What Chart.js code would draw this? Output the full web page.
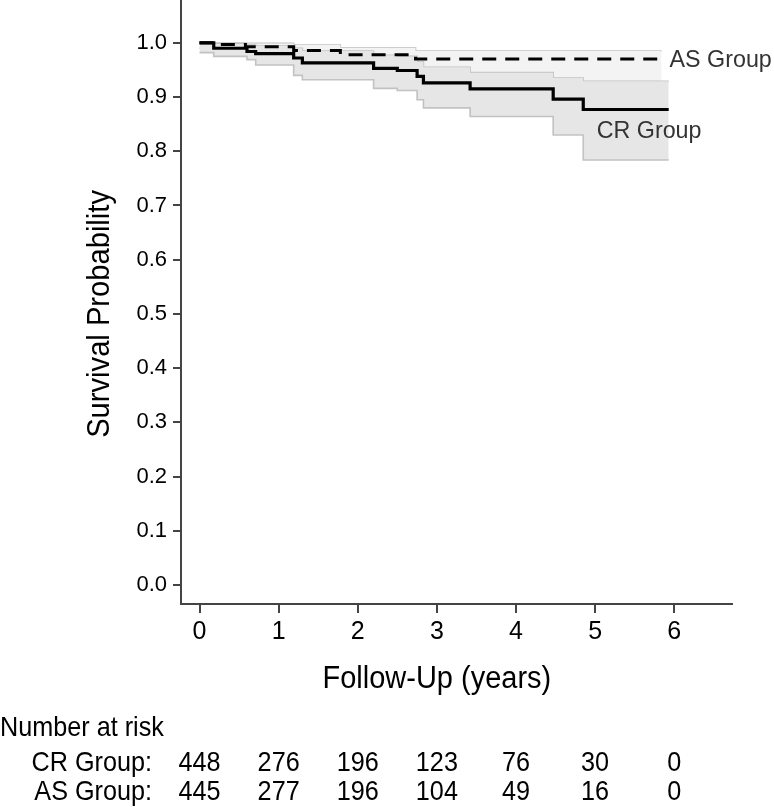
<!DOCTYPE html>
<html><head><meta charset="utf-8">
<script src="https://cdn.jsdelivr.net/npm/chart.js@4.4.1/dist/chart.umd.min.js"></script>
<style>html,body{margin:0;padding:0;background:#fff;}canvas{display:block;}</style>
</head><body>
<canvas id="c" width="774" height="807"></canvas>
<script>
// ---- data ----
const timeTicks = [0, 1, 2, 3, 4, 5, 6];
const survTicks = [0.0, 0.1, 0.2, 0.3, 0.4, 0.5, 0.6, 0.7, 0.8, 0.9, 1.0];

const crTimes = [0, 0.18, 0.60, 0.71, 1.19, 1.30, 2.20, 2.50, 2.75, 2.83, 3.42, 4.47, 4.85, 5.93];
const crSurv  = [1.000, 0.990, 0.984, 0.980, 0.972, 0.963, 0.953, 0.949, 0.938, 0.926, 0.915, 0.896, 0.877, 0.877];
const crLower = [0.982, 0.975, 0.969, 0.959, 0.940, 0.932, 0.916, 0.912, 0.895, 0.880, 0.864, 0.830, 0.784, 0.784];
const crUpper = [1.000, 0.998, 0.996, 0.994, 0.990, 0.985, 0.977, 0.975, 0.965, 0.955, 0.945, 0.935, 0.929, 0.929];

const asTimes = [0, 0.20, 0.58, 1.19, 1.78, 2.73, 5.84];
const asSurv  = [1.000, 0.997, 0.993, 0.986, 0.978, 0.970, 0.970];
const asLower = [0.990, 0.988, 0.983, 0.973, 0.960, 0.928, 0.928];
const asUpper = [1.000, 1.000, 0.999, 0.996, 0.991, 0.985, 0.985];

const groupNames = ['CR Group', 'AS Group'];
const riskTimes = [0, 1, 2, 3, 4, 5, 6];
const riskCR = [448, 276, 196, 123, 76, 30, 0];
const riskAS = [445, 277, 196, 104, 49, 16, 0];

const xTitle = 'Follow-Up (years)';
const yTitle = 'Survival Probability';
const riskTitle = 'Number at risk';

// ---- helpers ----
function pts(xs, ys) { return xs.map((x, i) => ({ x: x, y: ys[i] })); }
const FONT = '"Liberation Sans", Arial, Helvetica, sans-serif';

function drawText(ctx, s, px, py, size, align, sx, color, rot) {
  ctx.save();
  ctx.translate(px, py);
  if (rot) ctx.rotate(rot);
  ctx.scale(sx, 1);
  ctx.font = size + 'px ' + FONT;
  ctx.textAlign = align;
  ctx.textBaseline = 'alphabetic';
  ctx.fillStyle = color;
  ctx.fillText(s, 0, 0);
  ctx.restore();
}

const textPlugin = {
  id: 'kmTexts',
  afterDraw(chart) {
    const ctx = chart.ctx;
    const xs = chart.scales.x, ys = chart.scales.y;
    // axis titles
    drawText(ctx, xTitle, xs.getPixelForValue(3), 688, 31, 'center', 0.935, '#000');
    drawText(ctx, yTitle, 109, ys.getPixelForValue(0.5), 31, 'center', 0.94, '#000', -Math.PI / 2);
    // curve labels
    drawText(ctx, groupNames[1], xs.getPixelForValue(asTimes[asTimes.length - 1]) + 8,
             ys.getPixelForValue(asSurv[asSurv.length - 1]) + 8, 24, 'left', 0.97, '#333');
    drawText(ctx, groupNames[0], xs.getPixelForValue(5.02),
             ys.getPixelForValue(crSurv[crSurv.length - 1]) + 28, 24, 'left', 0.97, '#333');
    // number at risk table
    drawText(ctx, riskTitle, 0, 736, 28, 'left', 0.9, '#000');
    drawText(ctx, groupNames[0] + ':', 152, 771, 28, 'right', 0.9, '#000');
    drawText(ctx, groupNames[1] + ':', 152, 800, 28, 'right', 0.9, '#000');
    riskTimes.forEach((t, i) => {
      const px = xs.getPixelForValue(t);
      drawText(ctx, String(riskCR[i]), px, 771, 28, 'center', 0.9, '#000');
      drawText(ctx, String(riskAS[i]), px, 800, 28, 'center', 0.9, '#000');
    });
  }
};

const ciLine = '#c2c2c2';

new Chart(document.getElementById('c'), {
  type: 'line',
  data: {
    datasets: [
      { label: 'CR Group', data: pts(crTimes, crSurv), borderColor: '#000', borderWidth: 3.2,
        stepped: 'before', pointRadius: 0, fill: false, order: 1 },
      { label: 'AS Group', data: pts(asTimes, asSurv), borderColor: '#000', borderWidth: 3,
        borderDash: [14, 9], stepped: 'before', pointRadius: 0, fill: false, order: 2 },
      { label: 'CR lower', data: pts(crTimes, crLower), borderColor: ciLine, borderWidth: 1.6,
        stepped: 'before', pointRadius: 0, fill: '+1', backgroundColor: '#e6e6e6', order: 3 },
      { label: 'CR upper', data: pts(crTimes, crUpper), borderColor: ciLine, borderWidth: 1.6,
        stepped: 'before', pointRadius: 0, fill: false, order: 3 },
      { label: 'AS lower', data: pts(asTimes, asLower), borderColor: ciLine, borderWidth: 1.6,
        stepped: 'before', pointRadius: 0, fill: '+1', backgroundColor: '#f3f3f3', order: 4 },
      { label: 'AS upper', data: pts(asTimes, asUpper), borderColor: ciLine, borderWidth: 1.6,
        stepped: 'before', pointRadius: 0, fill: false, order: 4 }
    ]
  },
  options: {
    responsive: false,
    animation: false,
    devicePixelRatio: 1,
    layout: { padding: { left: 0, right: 42, top: 0, bottom: 0 } },
    plugins: { legend: { display: false }, tooltip: { enabled: false } },
    scales: {
      x: {
        type: 'linear', min: -0.234, max: 6.73,
        afterBuildTicks: s => { s.ticks = timeTicks.map(v => ({ value: v })); },
        afterFit: s => { s.height = 203; s.paddingLeft = 0; s.paddingRight = 0; },
        grid: { drawOnChartArea: false, drawTicks: true, tickLength: 9, color: '#444', lineWidth: 2 },
        border: { display: true, color: '#444', width: 2 },
        ticks: { color: '#000', font: { family: FONT, size: 25 }, padding: 4, autoSkip: false,
                 maxRotation: 0, callback: v => String(v) }
      },
      y: {
        type: 'linear', min: -0.035, max: 1.079,
        afterBuildTicks: s => { s.ticks = survTicks.map(v => ({ value: v })); },
        afterFit: s => { s.width = 181; s.paddingTop = 0; s.paddingBottom = 0; },
        grid: { drawOnChartArea: false, drawTicks: true, tickLength: 8, color: '#444', lineWidth: 2 },
        border: { display: true, color: '#444', width: 2 },
        ticks: { color: '#000', font: { family: FONT, size: 22 }, padding: 6, autoSkip: false,
                 callback: v => Number(v).toFixed(1) }
      }
    }
  },
  plugins: [textPlugin]
});
</script>
</body></html>
